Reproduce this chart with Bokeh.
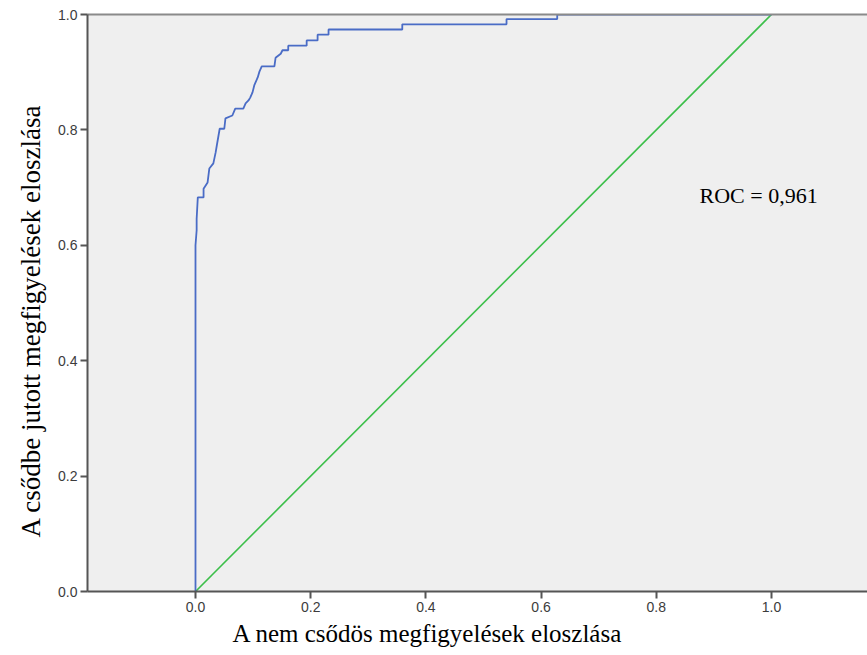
from bokeh.plotting import figure
from bokeh.models import Range1d, FixedTicker, PrintfTickFormatter, LinearAxis, Label, Title
from bokeh.embed import file_html
from bokeh.resources import INLINE

# ROC curve vertices (false positive rate, true positive rate)
fpr = [0.000, 0.000, 0.002, 0.002, 0.004, 0.014, 0.014, 0.021, 0.024, 0.031,
       0.035, 0.037, 0.042, 0.050, 0.052, 0.064, 0.069, 0.083, 0.087, 0.092,
       0.095, 0.099, 0.102, 0.108, 0.111, 0.115, 0.137, 0.139, 0.148, 0.151,
       0.161, 0.161, 0.193, 0.193, 0.212, 0.212, 0.231, 0.231, 0.359, 0.359,
       0.540, 0.540, 0.628, 0.628, 1.000]
tpr = [0.000, 0.600, 0.626, 0.646, 0.683, 0.683, 0.698, 0.709, 0.733, 0.742,
       0.761, 0.773, 0.802, 0.802, 0.820, 0.825, 0.837, 0.837, 0.846, 0.851,
       0.856, 0.865, 0.877, 0.891, 0.901, 0.910, 0.910, 0.925, 0.932, 0.938,
       0.938, 0.946, 0.946, 0.955, 0.955, 0.965, 0.965, 0.974, 0.974, 0.983,
       0.983, 0.992, 0.992, 1.000, 1.000]
ref_x = [0.0, 1.0]
ref_y = [0.0, 1.0]
ticks = [0.0, 0.2, 0.4, 0.6, 0.8, 1.0]
roc_text = "ROC = 0,961"
x_title = "A nem csődös megfigyelések eloszlása"
y_title = "A csődbe jutott megfigyelések eloszlása"

p = figure(width=867, height=655, output_backend="svg", toolbar_location=None,
           x_range=Range1d(-0.1875, 1.1667), y_range=Range1d(0.0, 1.0),
           min_border_left=87, min_border_right=0, min_border_top=14, min_border_bottom=64,
           background_fill_color="#efefef", border_fill_color="white")
p.outline_line_color = None
p.grid.visible = False

p.line(ref_x, ref_y, line_color="#3cbf4a", line_width=1.6)
p.line(fpr, tpr, line_color="#4a6cc6", line_width=1.8)

for ax in (p.xaxis[0], p.yaxis[0]):
    ax.ticker = FixedTicker(ticks=ticks)
    ax.formatter = PrintfTickFormatter(format="%.1f")
    ax.axis_line_color = "#555555"
    ax.axis_line_width = 2
    ax.major_tick_line_color = "#555555"
    ax.major_tick_line_width = 2
    ax.major_tick_out = 7
    ax.major_tick_in = 0
    ax.minor_tick_line_color = None
    ax.major_label_text_font = "Liberation Sans"
    ax.major_label_text_font_size = "14px"
    ax.major_label_text_color = "#3c3c3c"
    ax.major_label_standoff = 3

top = LinearAxis(ticker=FixedTicker(ticks=[]), major_label_text_font_size="0px",
                 axis_line_color="#8a8a8a", axis_line_width=2,
                 major_tick_line_color=None, minor_tick_line_color=None)
p.add_layout(top, "above")

p.add_layout(Label(x=0.875, y=0.686, text=roc_text, text_font="Liberation Serif",
                   text_font_size="22px", text_color="black",
                   text_align="left", text_baseline="alphabetic"))

# axis titles (placed as in the reference, slightly off-centre)
xt = Title(text=x_title, align="left", offset=145, standoff=7,
           text_font="Liberation Serif", text_font_size="25px",
           text_font_style="normal", text_color="black")
p.add_layout(xt, "below")
yt = Title(text=y_title, align="left", offset=54, standoff=20,
           text_font="Liberation Serif", text_font_size="27px",
           text_font_style="normal", text_color="black")
p.add_layout(yt, "left")

open("out.html", "w").write(file_html(p, INLINE))
